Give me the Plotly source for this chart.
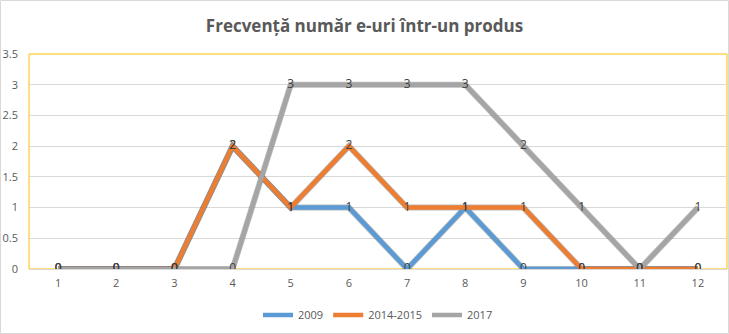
import plotly.graph_objects as go

# Number of e-mail addresses per product (x) and how often it occurs, per period
categories = [1, 2, 3, 4, 5, 6, 7, 8, 9, 10, 11, 12]
series_names = ["2009", "2014-2015", "2017"]
values_2009 = [0, 0, 0, 2, 1, 1, 0, 1, 0, 0, 0, 0]
values_2014_2015 = [0, 0, 0, 2, 1, 2, 1, 1, 1, 0, 0, 0]
values_2017 = [0, 0, 0, 0, 3, 3, 3, 3, 2, 1, 0, 1]
y_ticks = [0, 0.5, 1, 1.5, 2, 2.5, 3, 3.5]

colors = ["#5B9BD5", "#ED7D31", "#A5A5A5"]
all_values = [values_2009, values_2014_2015, values_2017]

W, H = 729, 334
ML, MR, MT, MB = 29, 2, 54, 65
PW, PH = W - ML - MR, H - MT - MB

fig = go.Figure()

# soft shadow under each line
for vals in all_values:
    fig.add_trace(go.Scatter(
        x=categories, y=vals, mode="lines",
        line=dict(color="rgba(60,60,60,0.35)", width=6),
        hoverinfo="skip", showlegend=False,
    ))

for name, vals, col in zip(series_names, all_values, colors):
    fig.add_trace(go.Scatter(
        x=categories, y=vals, mode="lines", name=name,
        line=dict(color=col, width=4.5),
    ))

# value labels on top of every line
for vals in all_values:
    fig.add_trace(go.Scatter(
        x=categories, y=vals, mode="text",
        text=[str(v) for v in vals], textposition="middle center",
        textfont=dict(family="Open Sans", size=12, color="#404040"),
        hoverinfo="skip", showlegend=False,
    ))

fig.update_layout(
    width=W, height=H,
    margin=dict(l=ML, r=MR, t=MT, b=MB),
    paper_bgcolor="white", plot_bgcolor="white",
    title=dict(
        text="<b>Frecvență număr e-uri într-un produs</b>",
        x=0.5, xanchor="center", y=1 - 26 / H, yanchor="middle",
        font=dict(family="Open Sans", size=17, color="#595959"),
    ),
    xaxis=dict(
        range=[0.5, 12.5], tickvals=categories, ticktext=[str(c) for c in categories],
        showgrid=False, zeroline=False, showline=False, ticks="",
        ticklabelstandoff=6,
        tickfont=dict(family="Open Sans", size=11, color="#595959"),
        fixedrange=True,
    ),
    yaxis=dict(
        range=[0, 3.5], tickvals=y_ticks, ticktext=[f"{t:g}" for t in y_ticks],
        showgrid=True, gridcolor="#D9D9D9", gridwidth=1,
        zeroline=True, zerolinecolor="#D9D9D9", zerolinewidth=1,
        showline=False, ticks="", ticklabelstandoff=10,
        tickfont=dict(family="Open Sans", size=11, color="#595959"),
        fixedrange=True,
    ),
    legend=dict(
        orientation="h", x=0.5, xanchor="center",
        y=-46 / PH, yanchor="middle",
        font=dict(family="Open Sans", size=11, color="#595959"),
        itemwidth=30, bgcolor="rgba(0,0,0,0)",
    ),
    showlegend=True,
)

# plot-area frame
fig.add_shape(type="rect", xref="paper", yref="paper", x0=0, x1=1, y0=0, y1=1,
              line=dict(color="#FFC000", width=1), layer="below")
# outer chart border
fig.add_shape(type="rect", xref="paper", yref="paper",
              x0=-(ML - 0.5) / PW, x1=1 + (MR - 0.5) / PW,
              y0=-(MB - 0.5) / PH, y1=1 + (MT - 0.5) / PH,
              line=dict(color="#D9D9D9", width=1), layer="below")

fig.write_html("out.html")
